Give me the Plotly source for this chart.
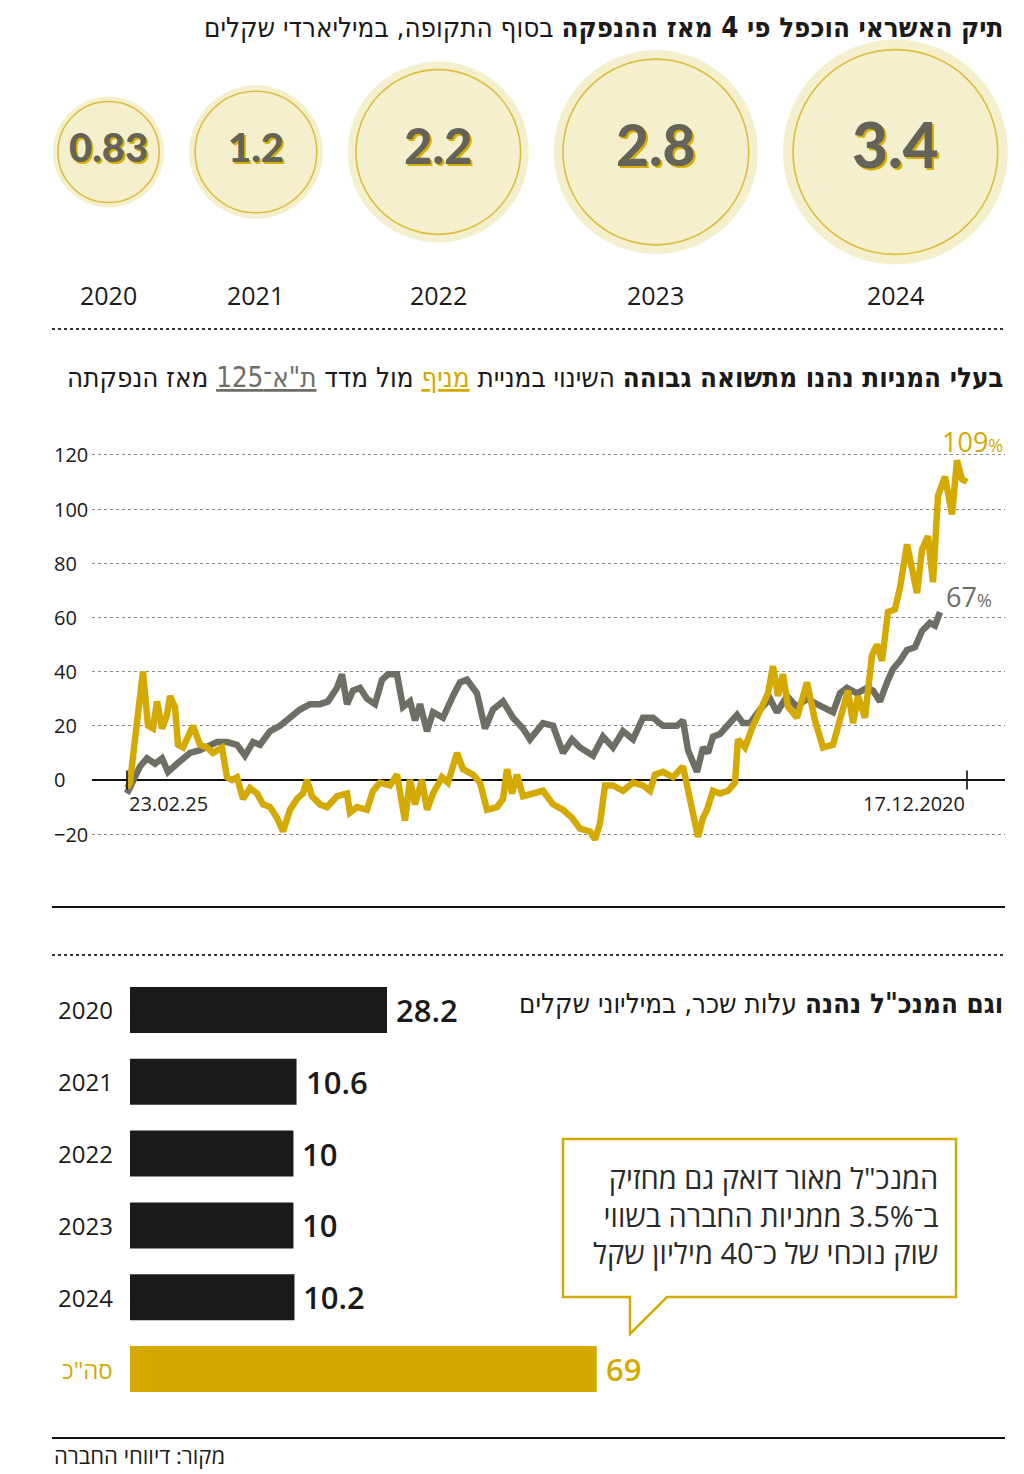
import plotly.graph_objects as go

OFF = 8                      # page body margin of the html page
W, H = 1024 - OFF, 1474 - OFF
def px(x):
    return (x - OFF) / W
def py(y):
    return 1 - (y - OFF) / H

GOLD = "#d4a900"
GRAY = "#6e6e64"
FILL = "#efeab8"
INK = "#1a1a1a"
BODY_FONT = "Open Sans, DejaVu Sans, sans-serif"
TITLE_FONT = "DejaVu Sans Condensed, Liberation Sans Narrow, Liberation Sans, sans-serif"

# ---------------- data ----------------
credit_years = ["2020", "2021", "2022", "2023", "2024"]
credit_values = [0.83, 1.2, 2.2, 2.8, 3.4]
credit_labels = ["0.83", "1.2", "2.2", "2.8", "3.4"]

# time units along the issuance -> today axis (0 = issuance)
menif_t = [0, 3, 8, 13, 16, 21, 26, 30, 35, 40, 43, 48, 51, 56, 61, 66, 73, 80, 86, 95,
           100, 105, 110, 116, 123, 130, 136, 143, 150, 156, 163, 170, 176, 180, 185, 193,
           200, 210, 220, 223, 230, 240, 246, 253, 263, 270, 278, 283, 288, 295, 300, 306,
           315, 321, 330, 336, 346, 353, 360, 370, 376, 380, 385, 390, 396, 406, 416, 426,
           436, 445, 453, 463, 468, 473, 478, 486, 496, 506, 516, 523, 528, 536, 546, 556,
           561, 566, 571, 576, 580, 586, 593, 601, 608, 611, 618, 626, 635, 641, 646, 651,
           656, 661, 670, 680, 688, 696, 706, 713, 721, 726, 731, 738, 745, 750, 755, 761,
           768, 773, 780, 790, 795, 801, 806, 811, 818, 825, 830, 835, 840]
menif_v = [-3, -1, 15, 33, 40, 20, 19, 29, 19, 24, 31, 27, 13, 12, 16, 20, 13, 12, 10, 12,
           1, 0, 1, -7, -3, -5, -9, -10, -14, -19, -11, -7, -5, 0, -6, -9,
           -10, -6, -5, -12, -10, -11, -4, -1, -2, 2, -15, 0, -9, 0, -11, -5,
           1, -1, 10, 4, 2, -1, -11, -10, -7, 4, -5, 2, -6, -5, -4, -9,
           -11, -14, -18, -19, -22, -16, -2, -2, -4, -1, -2, -4, 2, 3, 1, 5,
           -4, -12, -21, -14, -11, -4, -5, -4, -1, 15, 12, 20, 27, 32, 42, 31,
           39, 27, 23, 36, 22, 12, 13, 23, 33, 21, 31, 23, 46, 50, 44, 62,
           63, 71, 87, 69, 85, 90, 73, 105, 112, 98, 118, 111, 110]

ta125_t = [0, 6, 13, 20, 28, 35, 41, 50, 56, 63, 73, 80, 90, 100, 110, 118, 126, 133, 143,
           153, 163, 173, 183, 193, 201, 210, 215, 220, 226, 233, 240, 248, 255, 261, 270,
           276, 283, 288, 293, 300, 306, 316, 326, 333, 340, 350, 358, 366, 376, 386, 396,
           403, 416, 426, 436, 445, 453, 466, 476, 486, 496, 506, 516, 526, 536, 550, 556,
           561, 570, 576, 581, 586, 593, 600, 610, 616, 623, 633, 643, 650, 660, 670, 680,
           690, 700, 706, 713, 720, 730, 740, 746, 753, 760, 766, 773, 780, 788, 795, 803,
           808, 813]
ta125_v = [-5, 0, 5, 8, 6, 8, 3, 6, 8, 10, 11, 12, 14, 14, 13, 9, 14, 13, 18,
           20, 23, 26, 28, 28, 29, 34, 39, 28, 33, 34, 30, 28, 37, 39, 39,
           27, 29, 22, 28, 18, 25, 23, 31, 36, 37, 32, 19, 26, 29, 23, 19,
           15, 21, 20, 10, 15, 12, 9, 16, 12, 18, 15, 23, 23, 20, 20, 22,
           11, 3, 12, 10, 16, 17, 20, 24, 21, 21, 26, 30, 25, 31, 27, 30,
           28, 26, 25, 32, 34, 32, 34, 33, 29, 36, 41, 44, 48, 49, 55, 58,
           57, 62]

x_tick_t = [0, 840]
x_tick_labels = ["23.02.25", "17.12.2020"]
y_ticks = [120, 100, 80, 60, 40, 20, 0, -20]
y_tick_labels = ["120", "100", "80", "60", "40", "20", "0", "−20"]
menif_end_label = "109"
ta125_end_label = "67"

salary_years = ["2020", "2021", "2022", "2023", "2024", "סה\"כ"]
salary_values = [28.2, 10.6, 10, 10, 10.2, 69]
salary_labels = ["28.2", "10.6", "10", "10", "10.2", "69"]

# ---------------- figure ----------------
fig = go.Figure()

# --- bubbles (area proportional to value) ---
K = 61.0      # radius scale (px per sqrt(unit))
LEFT = 53.0
GAP = 25.0
radii = [K * v ** 0.5 for v in credit_values]
centers = []
edge = LEFT
for r in radii:
    centers.append(edge + r)
    edge += 2 * r + GAP
diam = [2 * r for r in radii]
bubble_y = [0.5] * len(credit_values)
value_font_sizes = [40, 40, 49, 57, 62]

fig.add_trace(go.Scatter(x=centers, y=bubble_y, xaxis="x2", yaxis="y2", mode="markers",
                         marker=dict(size=diam, sizemode="diameter", color=FILL, line=dict(width=0)),
                         hoverinfo="skip"))
fig.add_trace(go.Scatter(x=centers, y=bubble_y, xaxis="x2", yaxis="y2", mode="markers",
                         marker=dict(size=[d * 0.91 for d in diam], sizemode="diameter",
                                     color="rgba(0,0,0,0)", line=dict(width=1.6, color=GOLD)),
                         hoverinfo="skip"))
fig.add_trace(go.Scatter(x=centers, y=bubble_y, xaxis="x2", yaxis="y2", mode="text",
                         text=credit_labels,
                         textfont=dict(family="Lato, Open Sans, sans-serif", size=value_font_sizes,
                                       color="#636359", weight=900,
                                       shadow="2px 2px 0px #d9b000"),
                         hoverinfo="skip"))

# --- line chart ---
fig.add_trace(go.Scatter(x=ta125_t, y=ta125_v, mode="lines",
                         line=dict(color=GRAY, width=6.5), hoverinfo="skip"))
fig.add_trace(go.Scatter(x=menif_t, y=menif_v, mode="lines",
                         line=dict(color=GOLD, width=6.5), hoverinfo="skip"))

# --- bars ---
BAR_BASE = -21.8   # visual start of the bars
fig.add_trace(go.Bar(y=salary_years, x=[v - BAR_BASE for v in salary_values], base=BAR_BASE,
                     orientation="h", xaxis="x3", yaxis="y3",
                     marker=dict(color=[INK] * 5 + [GOLD], line=dict(width=0)),
                     width=0.64, hoverinfo="skip"))

# ---------------- axes ----------------
hidden = dict(showgrid=False, zeroline=False, showticklabels=False, showline=False, ticks="",
              fixedrange=True)

fig.update_layout(
    width=W, height=H, margin=dict(l=0, r=0, t=0, b=0),
    paper_bgcolor="white", plot_bgcolor="rgba(0,0,0,0)", showlegend=False,
    xaxis=dict(domain=[px(92), px(1005)], range=[-35, 878], **hidden),
    yaxis=dict(domain=[py(850), py(430)], range=[-25.85, 129.2], tickvals=y_ticks,
               showgrid=True, gridcolor="#8a8a8a", griddash="dot", gridwidth=1.2,
               zeroline=True, zerolinecolor="#111", zerolinewidth=1.6,
               showticklabels=False, showline=False, ticks="", fixedrange=True),
    xaxis2=dict(domain=[0, 1], range=[OFF, OFF + W], anchor="y2", **hidden),
    yaxis2=dict(domain=[py(280), py(24)], range=[0, 1], anchor="x2", **hidden),
    xaxis3=dict(domain=[px(130), px(1005)], range=[BAR_BASE, BAR_BASE + 875 / 5.14], anchor="y3", **hidden),
    yaxis3=dict(domain=[py(1405), py(974)], range=[5.5, -0.5], anchor="x3", type="category", **hidden),
)

ann = []
# top title
ann.append(dict(xref="paper", yref="paper", x=px(1005), y=py(27), xanchor="right", yanchor="middle",
                text="<b>תיק האשראי הוכפל פי 4 מאז ההנפקה</b> בסוף התקופה, במיליארדי שקלים",
                showarrow=False, font=dict(family=TITLE_FONT, size=27.5, color=INK)))
# bubble year labels
for c, yr in zip(centers, credit_years):
    ann.append(dict(xref="x2", yref="paper", x=c, y=py(295), yanchor="middle", text=yr, showarrow=False,
                    font=dict(family=BODY_FONT, size=25, color=INK)))

# line chart title
ann.append(dict(xref="paper", yref="paper", x=px(1005), y=py(377), xanchor="right", yanchor="middle",
                text=("<b>בעלי המניות נהנו מתשואה גבוהה</b> השינוי במניית "
                      "<span style='color:#d4a900;text-decoration:underline;text-decoration-thickness:5px;text-underline-offset:8px'>מניף</span>"
                      " מול מדד "
                      "<span style='color:#6e6e64;text-decoration:underline;text-decoration-thickness:5px;text-underline-offset:8px'>ת\"א־125</span>"
                      " מאז הנפקתה"),
                showarrow=False, font=dict(family=TITLE_FONT, size=27.5, color=INK)))
# y tick labels (left aligned)
for v, lab in zip(y_ticks, y_tick_labels):
    ann.append(dict(xref="paper", yref="y", x=px(52), y=v, xanchor="left", yanchor="middle",
                    text=lab, showarrow=False, font=dict(family=BODY_FONT, size=20, color=INK)))
# x tick labels
ann.append(dict(xref="x", yref="paper", x=x_tick_t[0], y=py(803), xanchor="left", yanchor="middle",
                text=x_tick_labels[0], showarrow=False, font=dict(family=BODY_FONT, size=20, color=INK)))
ann.append(dict(xref="x", yref="paper", x=x_tick_t[1], y=py(803), xanchor="right", yanchor="middle",
                text=x_tick_labels[1], showarrow=False, font=dict(family=BODY_FONT, size=20, color=INK)))
# end labels
ann.append(dict(xref="paper", yref="paper", x=px(1005), y=py(442), xanchor="right", yanchor="middle",
                text=menif_end_label + "<span style='font-size:18px'>%</span>", showarrow=False,
                font=dict(family=BODY_FONT, size=27, color=GOLD)))
ann.append(dict(xref="paper", yref="paper", x=px(994), y=py(596), xanchor="right", yanchor="middle",
                text=ta125_end_label + "<span style='font-size:18px'>%</span>", showarrow=False,
                font=dict(family=BODY_FONT, size=27, color=GRAY)))

# bar chart title
ann.append(dict(xref="paper", yref="paper", x=px(1005), y=py(1003), xanchor="right", yanchor="middle",
                text="<b>וגם המנכ\"ל נהנה</b> עלות שכר, במיליוני שקלים",
                showarrow=False, font=dict(family=TITLE_FONT, size=27.5, color=INK)))
# bar labels
for i, (yr, v, lab) in enumerate(zip(salary_years, salary_values, salary_labels)):
    col = GOLD if i == len(salary_years) - 1 else INK
    ann.append(dict(xref="paper", yref="y3", x=px(115), y=i, xanchor="right", yanchor="middle",
                    text=yr, showarrow=False, font=dict(family=BODY_FONT, size=24, color=col)))
    ann.append(dict(xref="x3", yref="y3", x=v, y=i, xanchor="left", yanchor="middle", xshift=7,
                    text=lab, showarrow=False,
                    font=dict(family=BODY_FONT, size=31, color=col, weight=600)))

# callout text
ann.append(dict(xref="paper", yref="paper", x=px(940), y=py(1215), xanchor="right", yanchor="middle",
                align="right",
                text="המנכ\"ל מאור דואק גם מחזיק<br>ב־3.5% ממניות החברה בשווי<br>שוק נוכחי של כ־40 מיליון שקל",
                showarrow=False, font=dict(family=BODY_FONT, size=29, color="#2a2a2a")))
# source
ann.append(dict(xref="paper", yref="paper", x=px(52), y=py(1455), xanchor="left", yanchor="middle",
                text="מקור: דיווחי החברה", showarrow=False,
                font=dict(family=BODY_FONT, size=22, color=INK)))

fig.update_layout(annotations=ann)

shapes = []
# separators
shapes.append(dict(type="line", xref="paper", yref="paper", x0=px(52), x1=px(1005), y0=py(329), y1=py(329),
                   line=dict(color="#333", width=2, dash="dot")))
shapes.append(dict(type="line", xref="paper", yref="paper", x0=px(52), x1=px(1005), y0=py(907), y1=py(907),
                   line=dict(color="#111", width=2)))
shapes.append(dict(type="line", xref="paper", yref="paper", x0=px(52), x1=px(1005), y0=py(955), y1=py(955),
                   line=dict(color="#333", width=2, dash="dot")))
shapes.append(dict(type="line", xref="paper", yref="paper", x0=px(52), x1=px(1005), y0=py(1438), y1=py(1438),
                   line=dict(color="#111", width=2)))
# x-axis tick marks on the zero line
for t in x_tick_t:
    shapes.append(dict(type="line", xref="x", yref="y", x0=t, x1=t, y0=-3.5, y1=3.5,
                       line=dict(color="#111", width=1.6)))
# callout box with tail
path = ("M {a},{b} L {c},{b} L {c},{d} L {e},{d} L {f},{g} L {f},{d} L {a},{d} Z").format(
    a=px(563), b=py(1139), c=px(956), d=py(1297), e=px(667), f=px(630), g=py(1334))
shapes.append(dict(type="path", xref="paper", yref="paper", path=path,
                   line=dict(color=GOLD, width=2.5), fillcolor="white", layer="above"))
fig.update_layout(shapes=shapes)

fig.write_html("out.html")
